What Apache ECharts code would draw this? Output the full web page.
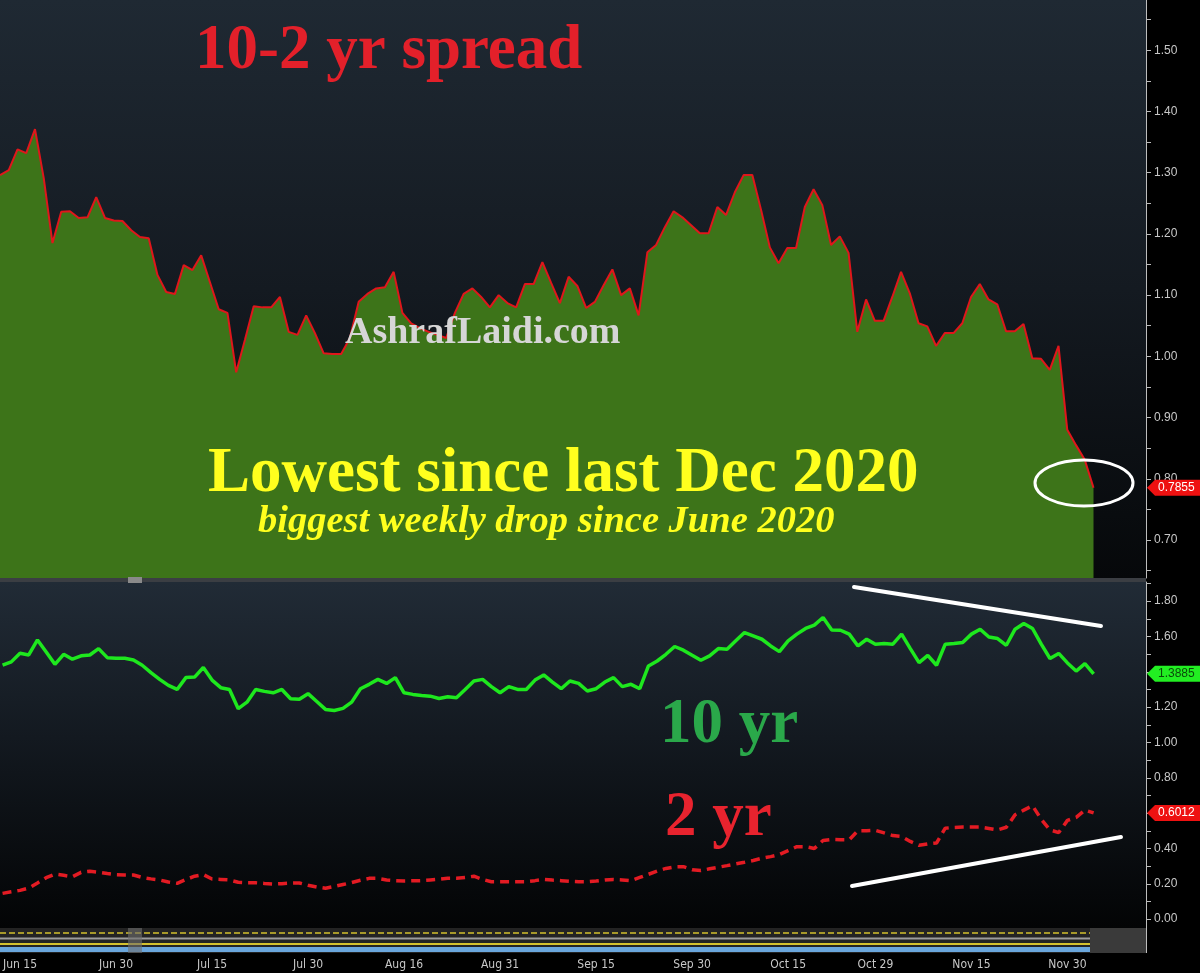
<!DOCTYPE html>
<html>
<head>
<meta charset="utf-8">
<script src="https://cdn.jsdelivr.net/npm/echarts@6/dist/echarts.min.js"></script>
<style>
html,body{margin:0;padding:0;background:#000;}
#c{width:1200px;height:973px;}
</style>
</head>
<body>
<div id="c"></div>
<script>
// ---- Data ----
const months = ['Jan','Feb','Mar','Apr','May','Jun','Jul','Aug','Sep','Oct','Nov','Dec'];
// weekday categories 2021-06-11 .. 2021-12-03
const dates = (function () {
  const out = [];
  const d = new Date(Date.UTC(2021, 5, 11));
  const end = Date.UTC(2021, 11, 3);
  while (d.getTime() <= end) {
    const wd = d.getUTCDay();
    if (wd !== 0 && wd !== 6) out.push(months[d.getUTCMonth()] + ' ' + d.getUTCDate());
    d.setUTCDate(d.getUTCDate() + 1);
  }
  return out;
})();
const padCategories = ['p1','p2','p3','p4','p5','p6'];
const tickLabels = ['Jun 15','Jun 30','Jul 15','Jul 30','Aug 16','Aug 31','Sep 15','Sep 30','Oct 15','Oct 29','Nov 15','Nov 30'];

const spread = [1.296,1.304,1.338,1.332,1.371,1.291,1.185,1.236,1.237,1.226,
 1.227,1.260,1.226,1.222,1.221,1.206,1.195,1.193,1.133,1.105,
 1.102,1.149,1.141,1.165,1.121,1.077,1.071,0.974,1.027,1.082,
 1.080,1.080,1.097,1.040,1.035,1.067,1.038,1.005,1.004,1.004,
 1.030,1.089,1.102,1.111,1.113,1.138,1.071,1.054,1.046,1.040,
 1.035,1.030,1.071,1.102,1.111,1.097,1.080,1.100,1.087,1.080,
 1.118,1.118,1.154,1.120,1.087,1.130,1.115,1.079,1.089,1.116,
 1.142,1.100,1.111,1.067,1.170,1.182,1.211,1.237,1.227,1.214,
 1.201,1.201,1.244,1.231,1.268,1.296,1.296,1.239,1.178,1.152,
 1.177,1.177,1.244,1.273,1.247,1.182,1.196,1.169,1.040,1.093,
 1.058,1.058,1.097,1.138,1.103,1.054,1.049,1.017,1.038,1.038,
 1.054,1.097,1.118,1.093,1.085,1.041,1.041,1.053,0.997,0.996,
 0.978,1.017,0.880,0.855,0.831,0.7855];

const tenYr = [1.437,1.456,1.505,1.495,1.580,1.512,1.442,1.499,1.471,1.490,
 1.495,1.531,1.480,1.476,1.476,1.467,1.437,1.395,1.357,1.323,
 1.300,1.367,1.370,1.424,1.353,1.310,1.300,1.191,1.228,1.300,
 1.289,1.281,1.300,1.247,1.244,1.276,1.232,1.187,1.181,1.193,
 1.228,1.304,1.329,1.357,1.334,1.367,1.281,1.272,1.266,1.262,
 1.249,1.259,1.253,1.300,1.348,1.357,1.316,1.281,1.316,1.300,
 1.300,1.353,1.382,1.342,1.304,1.348,1.334,1.291,1.304,1.342,
 1.367,1.316,1.329,1.304,1.433,1.461,1.499,1.543,1.522,1.493,
 1.465,1.490,1.531,1.528,1.575,1.622,1.603,1.584,1.546,1.514,
 1.575,1.613,1.645,1.664,1.707,1.637,1.635,1.613,1.546,1.584,
 1.556,1.560,1.556,1.613,1.531,1.452,1.493,1.437,1.556,1.560,
 1.566,1.613,1.641,1.597,1.588,1.550,1.641,1.673,1.645,1.556,
 1.475,1.504,1.450,1.404,1.446,1.3885];

const twoYr = [0.146,0.155,0.163,0.176,0.205,0.235,0.255,0.248,0.240,0.265,
 0.271,0.266,0.258,0.252,0.250,0.250,0.236,0.228,0.222,0.210,
 0.203,0.224,0.243,0.252,0.227,0.225,0.222,0.209,0.206,0.206,
 0.202,0.199,0.201,0.204,0.205,0.192,0.182,0.175,0.185,0.196,
 0.207,0.220,0.231,0.231,0.222,0.218,0.216,0.217,0.218,0.222,
 0.226,0.231,0.231,0.236,0.243,0.225,0.212,0.212,0.212,0.212,
 0.212,0.218,0.225,0.221,0.218,0.214,0.212,0.212,0.216,0.222,
 0.224,0.222,0.218,0.236,0.254,0.272,0.287,0.296,0.297,0.280,
 0.275,0.285,0.294,0.303,0.313,0.322,0.332,0.345,0.354,0.366,
 0.388,0.410,0.410,0.400,0.445,0.451,0.449,0.449,0.501,0.501,
 0.503,0.488,0.473,0.468,0.440,0.418,0.426,0.431,0.515,0.519,
 0.521,0.521,0.521,0.513,0.505,0.520,0.591,0.617,0.642,0.565,
 0.505,0.490,0.559,0.576,0.617,0.6012];

const spreadLabels = [0.70,0.80,0.90,1.00,1.10,1.20,1.30,1.40,1.50];
const spreadTicks = [0.65,0.70,0.75,0.80,0.85,0.90,0.95,1.00,1.05,1.10,1.15,1.20,1.25,1.30,1.35,1.40,1.45,1.50,1.55];
const yieldLabels = [0.00,0.20,0.40,0.60,0.80,1.00,1.20,1.40,1.60,1.80];
const yieldTicks = [0.0,0.1,0.2,0.3,0.4,0.5,0.6,0.7,0.8,0.9,1.0,1.1,1.2,1.3,1.4,1.5,1.6,1.7,1.8,1.9];

// ---- Chart ----
const categories = dates.concat(padCategories);
const AX = '#c8c8c8';
const chart = echarts.init(document.getElementById('c'), null, {renderer: 'canvas'});

function grad(stops) {
  return new echarts.graphic.LinearGradient(0, 0, 0, 1, stops);
}

const showLabel = function (idx, val) { return tickLabels.indexOf(val) >= 0; };

chart.setOption({
  backgroundColor: '#000',
  animation: false,
  grid: [
    {left: 0, top: 0, width: 1146, height: 578, show: false},
    {left: 0, top: 582, width: 1146, height: 346, show: false}
  ],
  xAxis: [
    {type: 'category', gridIndex: 0, data: categories, boundaryGap: false,
     axisLine: {show: false}, axisTick: {show: false}, axisLabel: {show: false}, splitLine: {show: false}},
    {type: 'category', gridIndex: 1, data: categories, boundaryGap: false,
     axisLine: {show: false},
     axisTick: {show: false},
     axisLabel: {show: true, interval: showLabel, margin: 31, color: AX, fontSize: 12,
                 fontFamily: '"Liberation Sans Narrow", "DejaVu Sans Condensed", sans-serif'},
     splitLine: {show: false}}
  ],
  yAxis: [
    {type: 'value', gridIndex: 0, position: 'right', min: 0.638, max: 1.582,
     axisLine: {show: true, lineStyle: {color: '#bdbdbd', width: 1}},
     axisTick: {show: true, customValues: spreadTicks, length: 5, lineStyle: {color: '#bdbdbd'}},
     axisLabel: {show: true, customValues: spreadLabels, color: AX, fontSize: 12, margin: 8,
                 fontFamily: '"Liberation Sans", Arial, sans-serif',
                 formatter: function (v) { return v.toFixed(2); }},
     splitLine: {show: false}},
    {type: 'value', gridIndex: 1, position: 'right', min: -0.05, max: 1.908,
     axisLine: {show: true, lineStyle: {color: '#bdbdbd', width: 1}},
     axisTick: {show: true, customValues: yieldTicks, length: 5, lineStyle: {color: '#bdbdbd'}},
     axisLabel: {show: true, customValues: yieldLabels, color: AX, fontSize: 12, margin: 8,
                 fontFamily: '"Liberation Sans", Arial, sans-serif',
                 formatter: function (v) { return v.toFixed(2); }},
     splitLine: {show: false}}
  ],
  series: [
    {name: '10-2 yr spread', type: 'line', xAxisIndex: 0, yAxisIndex: 0, data: spread,
     symbol: 'none', lineStyle: {color: '#e0161b', width: 2},
     areaStyle: {color: '#3d7419', opacity: 1, origin: 'start'}, z: 5},
    {name: '10 yr', type: 'line', xAxisIndex: 1, yAxisIndex: 1, data: tenYr,
     symbol: 'none', lineStyle: {color: '#1ee81e', width: 3.5}, z: 5},
    {name: '2 yr', type: 'line', xAxisIndex: 1, yAxisIndex: 1, data: twoYr,
     symbol: 'none', lineStyle: {color: '#e31b23', width: 3.5, type: [9, 6]}, z: 5}
  ]
});

// ---- Overlays (tags use the library's scales) ----
function tag(axisIndex, value, fill, textColor) {
  const y = chart.convertToPixel({yAxisIndex: axisIndex}, value);
  return [
    {type: 'polygon', z: 50,
     shape: {points: [[1147, y], [1155, y - 8], [1200, y - 8], [1200, y + 8], [1155, y + 8]]},
     style: {fill: fill}},
    {type: 'text', z: 51,
     style: {text: value.toFixed(4), x: 1158, y: y, fill: textColor, fontSize: 12,
             fontFamily: '"Liberation Sans", Arial, sans-serif', verticalAlign: 'middle', align: 'left'}}
  ];
}

const serif = '"Liberation Serif", "Times New Roman", serif';
function label(text, x, y, size, color, italic) {
  return {type: 'text', z: 60,
    style: {text: text, x: x, y: y, fill: color, fontSize: size, fontWeight: 'bold',
            fontStyle: italic ? 'italic' : 'normal', fontFamily: serif,
            verticalAlign: 'middle', align: 'left'}};
}

let g = [
  // panel backgrounds
  {type: 'rect', z: 0, shape: {x: 0, y: 0, width: 1146, height: 578},
   style: {fill: grad([{offset: 0, color: '#1f2933'}, {offset: 0.5, color: '#141a21'}, {offset: 1, color: '#06080a'}])}},
  {type: 'rect', z: 0, shape: {x: 0, y: 582, width: 1146, height: 346},
   style: {fill: grad([{offset: 0, color: '#212b36'}, {offset: 0.45, color: '#131920'}, {offset: 1, color: '#030405'}])}},
  // panel separator & handle
  {type: 'rect', z: 40, shape: {x: 0, y: 578, width: 1146, height: 4}, style: {fill: '#3b3e43'}},
  {type: 'rect', z: 41, shape: {x: 128, y: 577, width: 14, height: 6}, style: {fill: '#8a8a8a'}},
  // lower study strip
  {type: 'rect', z: 10, shape: {x: 0, y: 928, width: 1146, height: 25}, style: {fill: '#232323'}},
  {type: 'line', z: 11, shape: {x1: 0, y1: 933, x2: 1090, y2: 933}, style: {stroke: '#d4c12e', lineWidth: 1.5, lineDash: [6, 3]}},
  {type: 'line', z: 11, shape: {x1: 0, y1: 938.5, x2: 1090, y2: 938.5}, style: {stroke: '#9c9c9c', lineWidth: 2}},
  {type: 'line', z: 11, shape: {x1: 0, y1: 944, x2: 1090, y2: 944}, style: {stroke: '#d4c12e', lineWidth: 2}},
  {type: 'rect', z: 11, shape: {x: 0, y: 947, width: 1090, height: 5}, style: {fill: '#6aa6dc'}},
  {type: 'rect', z: 12, shape: {x: 1090, y: 928, width: 56, height: 25}, style: {fill: '#3a3a3a'}},
  {type: 'rect', z: 12, shape: {x: 128, y: 928, width: 14, height: 25}, style: {fill: '#6e6e6e', opacity: 0.6}},
  {type: 'line', z: 13, shape: {x1: 1146.5, y1: 928, x2: 1146.5, y2: 953}, style: {stroke: '#bdbdbd', lineWidth: 1}},
  // annotations
  {type: 'ellipse', z: 60, shape: {cx: 1084, cy: 483, rx: 49, ry: 23}, style: {fill: 'none', stroke: '#ffffff', lineWidth: 3}},
  {type: 'line', z: 60, shape: {x1: 854, y1: 587, x2: 1101, y2: 626}, style: {stroke: '#ffffff', lineWidth: 4, lineCap: 'round'}},
  {type: 'line', z: 60, shape: {x1: 852, y1: 886, x2: 1121, y2: 837}, style: {stroke: '#ffffff', lineWidth: 4, lineCap: 'round'}},
  label('10-2 yr spread', 195, 52, 63, '#e3202a', false),
  label('AshrafLaidi.com', 345, 333, 38, '#d6d6d6', false),
  label('Lowest since last Dec 2020', 208, 475, 63, '#ffff1e', false),
  label('biggest weekly drop since June 2020', 258, 522, 38.5, '#ffff1e', true),
  label('10 yr', 660, 726, 63, '#2aa84a', false),
  label('2 yr', 665, 819, 63, '#e8232e', false)
];
g = g.concat(tag(0, spread[spread.length - 1], '#ee1111', '#ffffff'));
g = g.concat(tag(1, tenYr[tenYr.length - 1], '#22ee22', '#0b4a0b'));
g = g.concat(tag(1, twoYr[twoYr.length - 1], '#ee1111', '#ffffff'));

chart.setOption({graphic: g});
</script>
</body>
</html>
